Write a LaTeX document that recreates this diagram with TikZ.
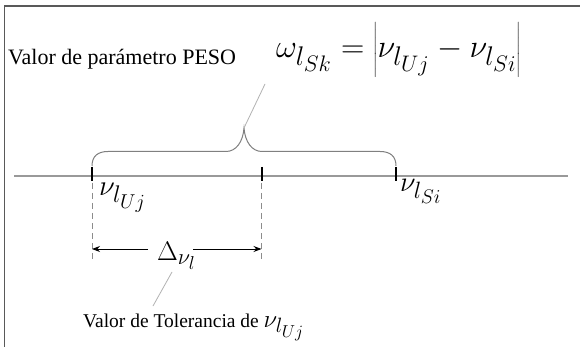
\documentclass[tikz,border=0pt]{standalone}
\usepackage{graphicx}
\usepackage{fontspec}
\setmainfont{Liberation Serif}
\usetikzlibrary{arrows.meta}
\newcommand{\bigmath}[2]{\scalebox{#1}{\Huge$#2$}}
\begin{document}
\begin{tikzpicture}[x=1pt,y=-1pt,
  frameline/.style={draw=black!65, line width=1.1pt},
  axisline/.style={draw=black!40, line width=1.5pt},
  tickmark/.style={draw=black, line width=2pt},
  bracepath/.style={draw=black!50, line width=1pt},
  leader/.style={draw=black!30, line width=0.8pt},
  guide/.style={draw=black!45, line width=0.8pt, dash pattern=on 6pt off 4pt},
  dimarrow/.style={draw=black, line width=1pt, -{Stealth[length=8pt,width=6pt]}},
  toptext/.style={font=\fontsize{22}{26}\selectfont, inner sep=0pt},
  bottext/.style={font=\fontsize{19.5}{23}\selectfont, inner sep=0pt},
  mathlabel/.style={inner sep=0pt}
]
\useasboundingbox (0,0) rectangle (580,347);
\fill[white] (0,0) rectangle (580,347);
\draw[frameline] (4.5,347) -- (4.5,6) -- (580,6);

% axis
\coordinate (axL) at (14,176);
\coordinate (axR) at (568,176);
\draw[axisline] (axL) -- (axR);

% ticks
\coordinate (tUtop) at (92,167);  \coordinate (tUbot) at (92,181);
\coordinate (tMtop) at (261.5,167); \coordinate (tMbot) at (261.5,181);
\coordinate (tStop) at (396,167); \coordinate (tSbot) at (396,181);
\draw[tickmark] (tUtop) -- (tUbot);
\draw[tickmark] (tMtop) -- (tMbot);
\draw[tickmark] (tStop) -- (tSbot);

% brace
\coordinate (cusp) at (244,128);
\draw[bracepath] (92,166) .. controls (92,156) and (98,151.5) .. (108,151.5)
  -- (226,151.5) .. controls (236,151.5) and (243,142) .. (cusp)
  .. controls (245,142) and (252,151.5) .. (262,151.5)
  -- (380,151.5) .. controls (390,151.5) and (396,156) .. (396,166);

% top labels
\node[toptext, anchor=base west] (peso) at (8,65) {Valor de parámetro PESO};
\node[mathlabel, anchor=base west] (form) at (276,58)
  {\bigmath{1.3}{\omega_{l_{Sk}} = \left|\nu_{l_{Uj}} - \nu_{l_{Si}}\right|}};
\coordinate (formfoot) at (265,84);
\draw[leader] (cusp) -- (formfoot);

% value labels
\node[mathlabel, anchor=base west] (vU) at (99,196) {\bigmath{1.16}{\nu_{l_{Uj}}}};
\node[mathlabel, anchor=base west] (vS) at (400,192) {\bigmath{1.14}{\nu_{l_{Si}}}};

% dashed guides
\coordinate (gU1) at (92,183); \coordinate (gU2) at (92,262);
\coordinate (gM1) at (261.5,183); \coordinate (gM2) at (261.5,262);
\draw[guide] (gU1) -- (gU2);
\draw[guide] (gM1) -- (gM2);

% tolerance arrow
\node[mathlabel, anchor=base west] (delta) at (157,260) {\bigmath{1.08}{\Delta_{\nu_l}}};
\coordinate (arrL) at (92,249);
\coordinate (arrR) at (261.5,249);
\draw[dimarrow] (148,249) -- (arrL);
\draw[dimarrow] (193,249) -- (arrR);

% bottom label
\node[bottext, anchor=base west] (tol) at (83,327) {Valor de Tolerancia de \bigmath{1.0}{\nu_{l_{Uj}}}};
\coordinate (tolfoot) at (153,306);
\coordinate (deltafoot) at (172,272);
\draw[leader] (deltafoot) -- (tolfoot);
\end{tikzpicture}
\end{document}
